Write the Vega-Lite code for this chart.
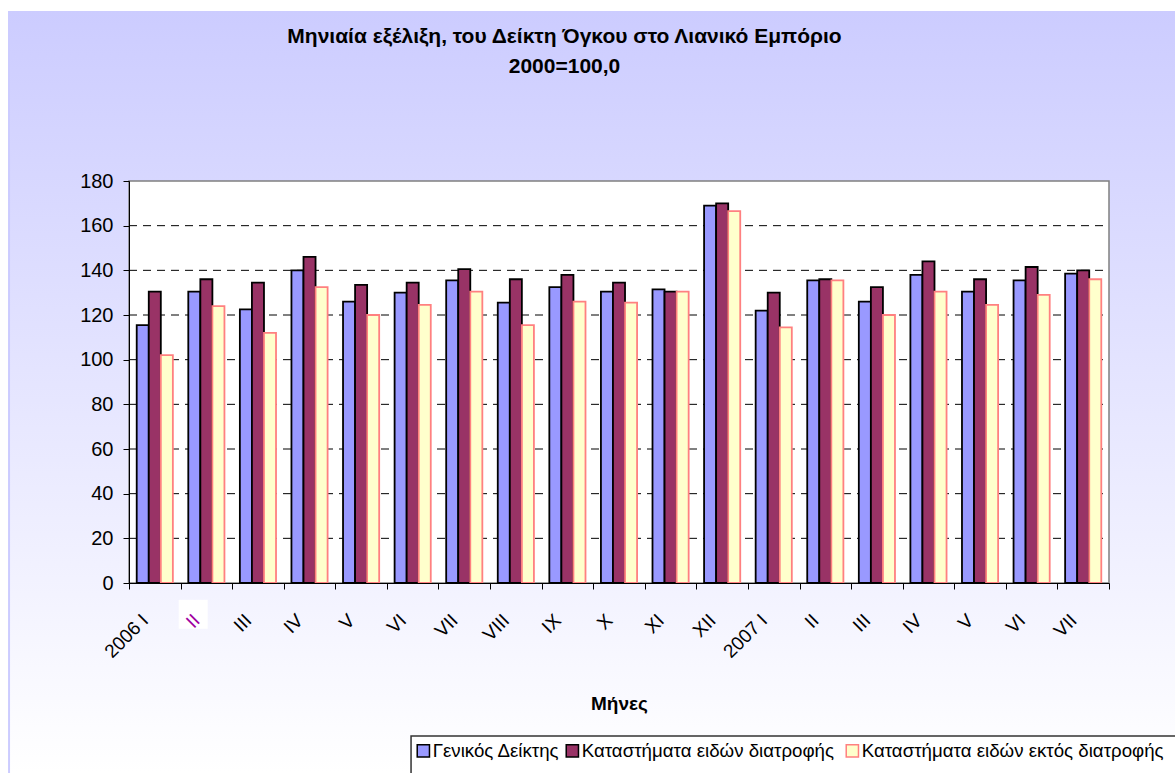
{"$schema":"https://vega.github.io/schema/vega-lite/v6.json","width":1167,"height":762,"autosize":"none","padding":{"left":8,"top":11,"right":0,"bottom":0},"background":"white","config":{"font":"Liberation Sans","view":{"stroke":null}},"view":{"stroke":null,"fill":{"gradient":"linear","x1":0,"y1":0,"x2":0,"y2":1,"stops":[{"offset":0,"color":"#CCCCFF"},{"offset":1,"color":"#FFFFFF"}]}},"title":{"text":["Μηνιαία εξέλιξη, του Δείκτη Όγκου στο Λιανικό Εμπόριο","2000=100,0"],"anchor":"middle","frame":"group","fontSize":21,"fontWeight":"bold","color":"#000000","dx":-27,"dy":71,"lineHeight":30},"datasets":{"edge":[{"a":-0.1224}],"box":[{"a":0.0655,"g":-14}],"legendbox":[{"a":0.2878,"b":1.2,"lo":-68.5,"hi":-100}],"frame":[{"a":0,"b":1,"lo":0,"hi":180}],"grid":[{"a":0,"b":1,"g":20},{"a":0,"b":1,"g":40},{"a":0,"b":1,"g":60},{"a":0,"b":1,"g":80},{"a":0,"b":1,"g":100},{"a":0,"b":1,"g":120},{"a":0,"b":1,"g":140},{"a":0,"b":1,"g":160}],"bars":[
{"m":"2006-01","s":"Γενικός Δείκτης","v":115.5},{"m":"2006-01","s":"Καταστήματα ειδών  διατροφής","v":130.5},{"m":"2006-01","s":"Καταστήματα ειδών   εκτός διατροφής","v":102},
{"m":"2006-02","s":"Γενικός Δείκτης","v":130.5},{"m":"2006-02","s":"Καταστήματα ειδών  διατροφής","v":136},{"m":"2006-02","s":"Καταστήματα ειδών   εκτός διατροφής","v":124},
{"m":"2006-03","s":"Γενικός Δείκτης","v":122.5},{"m":"2006-03","s":"Καταστήματα ειδών  διατροφής","v":134.5},{"m":"2006-03","s":"Καταστήματα ειδών   εκτός διατροφής","v":112},
{"m":"2006-04","s":"Γενικός Δείκτης","v":140},{"m":"2006-04","s":"Καταστήματα ειδών  διατροφής","v":146},{"m":"2006-04","s":"Καταστήματα ειδών   εκτός διατροφής","v":132.5},
{"m":"2006-05","s":"Γενικός Δείκτης","v":126},{"m":"2006-05","s":"Καταστήματα ειδών  διατροφής","v":133.5},{"m":"2006-05","s":"Καταστήματα ειδών   εκτός διατροφής","v":120},
{"m":"2006-06","s":"Γενικός Δείκτης","v":130},{"m":"2006-06","s":"Καταστήματα ειδών  διατροφής","v":134.5},{"m":"2006-06","s":"Καταστήματα ειδών   εκτός διατροφής","v":124.5},
{"m":"2006-07","s":"Γενικός Δείκτης","v":135.5},{"m":"2006-07","s":"Καταστήματα ειδών  διατροφής","v":140.5},{"m":"2006-07","s":"Καταστήματα ειδών   εκτός διατροφής","v":130.5},
{"m":"2006-08","s":"Γενικός Δείκτης","v":125.5},{"m":"2006-08","s":"Καταστήματα ειδών  διατροφής","v":136},{"m":"2006-08","s":"Καταστήματα ειδών   εκτός διατροφής","v":115.5},
{"m":"2006-09","s":"Γενικός Δείκτης","v":132.5},{"m":"2006-09","s":"Καταστήματα ειδών  διατροφής","v":138},{"m":"2006-09","s":"Καταστήματα ειδών   εκτός διατροφής","v":126},
{"m":"2006-10","s":"Γενικός Δείκτης","v":130.5},{"m":"2006-10","s":"Καταστήματα ειδών  διατροφής","v":134.5},{"m":"2006-10","s":"Καταστήματα ειδών   εκτός διατροφής","v":125.5},
{"m":"2006-11","s":"Γενικός Δείκτης","v":131.5},{"m":"2006-11","s":"Καταστήματα ειδών  διατροφής","v":130.5},{"m":"2006-11","s":"Καταστήματα ειδών   εκτός διατροφής","v":130.5},
{"m":"2006-12","s":"Γενικός Δείκτης","v":169},{"m":"2006-12","s":"Καταστήματα ειδών  διατροφής","v":170},{"m":"2006-12","s":"Καταστήματα ειδών   εκτός διατροφής","v":166.5},
{"m":"2007-01","s":"Γενικός Δείκτης","v":122},{"m":"2007-01","s":"Καταστήματα ειδών  διατροφής","v":130},{"m":"2007-01","s":"Καταστήματα ειδών   εκτός διατροφής","v":114.5},
{"m":"2007-02","s":"Γενικός Δείκτης","v":135.5},{"m":"2007-02","s":"Καταστήματα ειδών  διατροφής","v":136},{"m":"2007-02","s":"Καταστήματα ειδών   εκτός διατροφής","v":135.5},
{"m":"2007-03","s":"Γενικός Δείκτης","v":126},{"m":"2007-03","s":"Καταστήματα ειδών  διατροφής","v":132.5},{"m":"2007-03","s":"Καταστήματα ειδών   εκτός διατροφής","v":120},
{"m":"2007-04","s":"Γενικός Δείκτης","v":138},{"m":"2007-04","s":"Καταστήματα ειδών  διατροφής","v":144},{"m":"2007-04","s":"Καταστήματα ειδών   εκτός διατροφής","v":130.5},
{"m":"2007-05","s":"Γενικός Δείκτης","v":130.5},{"m":"2007-05","s":"Καταστήματα ειδών  διατροφής","v":136},{"m":"2007-05","s":"Καταστήματα ειδών   εκτός διατροφής","v":124.5},
{"m":"2007-06","s":"Γενικός Δείκτης","v":135.5},{"m":"2007-06","s":"Καταστήματα ειδών  διατροφής","v":141.5},{"m":"2007-06","s":"Καταστήματα ειδών   εκτός διατροφής","v":129},
{"m":"2007-07","s":"Γενικός Δείκτης","v":138.5},{"m":"2007-07","s":"Καταστήματα ειδών  διατροφής","v":140},{"m":"2007-07","s":"Καταστήματα ειδών   εκτός διατροφής","v":136}
]},"resolve":{"scale":{"x":"independent"},"axis":{"x":"independent"}},"layer":[
{"data":{"name":"frame"},"mark":{"type":"rect","fill":"white","stroke":"#808080","strokeWidth":1.5},"encoding":{"x":{"field":"a","type":"quantitative","scale":{"domain":[0,1],"range":[121,1101]},"axis":null},"x2":{"field":"b"},"y":{"field":"lo","type":"quantitative","scale":{"domain":[0,180],"range":[572,170],"nice":false},"axis":{"title":null,"offset":-121,"orient":"left","values":[0,20,40,60,80,100,120,140,160,180],"grid":false,"labelFontSize":20,"labelColor":"#000000","tickColor":"#000000","domainColor":"#000000","tickSize":6,"labelPadding":10,"zindex":1}},"y2":{"field":"hi"}}},
{"data":{"name":"legendbox"},"mark":{"type":"rect","fill":"#FFFFFF","stroke":"#333333","strokeWidth":1.5,"clip":false},"encoding":{"x":{"field":"a","type":"quantitative","scale":{"domain":[0,1],"range":[121,1101]},"axis":null},"x2":{"field":"b"},"y":{"field":"lo","type":"quantitative"},"y2":{"field":"hi"}}},
{"data":{"name":"edge"},"mark":{"type":"rule","stroke":"#CCCCFF","strokeWidth":2},"encoding":{"x":{"field":"a","type":"quantitative","scale":{"domain":[0,1],"range":[121,1101]},"axis":null}}},
{"data":{"name":"box"},"mark":{"type":"square","filled":true,"color":"#FFFFFF","opacity":1,"size":841,"clip":false},"encoding":{"x":{"field":"a","type":"quantitative","scale":{"domain":[0,1],"range":[121,1101]},"axis":null},"y":{"field":"g","type":"quantitative"}}},
{"data":{"name":"grid"},"mark":{"type":"rule","stroke":"#000000","strokeWidth":1,"strokeDash":[8,6]},"encoding":{"x":{"field":"a","type":"quantitative","scale":{"domain":[0,1],"range":[121,1101]},"axis":null},"x2":{"field":"b"},"y":{"field":"g","type":"quantitative"}}},
{"data":{"name":"bars"},"mark":{"type":"bar","strokeWidth":1.8},"encoding":{
"x":{"field":"m","type":"nominal","sort":null,"scale":{"range":[121,1101],"paddingInner":0,"paddingOuter":0},"axis":{"title":"Μήνες","titleFontSize":19,"titleFontWeight":"bold","titleColor":"#000000","titlePadding":33,"offset":-190,"orient":"bottom","labelAngle":-45,"labelAlign":"right","labelBaseline":"middle","labelFontSize":19,"labelColor":{"condition":{"test":"datum.value==='2006-02'","value":"#A000A0"},"value":"#000000"},"labelPadding":28,"labelOffset":-10,"tickBand":"extent","tickColor":"#000000","domainColor":"#000000","tickSize":6,"labelExpr":"({'2006-01':'2006 I','2006-02':'II','2006-03':'III','2006-04':'IV','2006-05':'V','2006-06':'VI','2006-07':'VII','2006-08':'VIII','2006-09':'IX','2006-10':'X','2006-11':'XI','2006-12':'XII','2007-01':'2007 I','2007-02':'II','2007-03':'III','2007-04':'IV','2007-05':'V','2007-06':'VI','2007-07':'VII'})[datum.value]","zindex":1}},
"xOffset":{"field":"s","type":"nominal","sort":null,"scale":{"domain":["Γενικός Δείκτης","Καταστήματα ειδών  διατροφής","Καταστήματα ειδών   εκτός διατροφής"],"paddingInner":0,"paddingOuter":0.64}},
"y":{"field":"v","type":"quantitative"},
"fill":{"field":"s","type":"nominal","scale":{"domain":["Γενικός Δείκτης","Καταστήματα ειδών  διατροφής","Καταστήματα ειδών   εκτός διατροφής"],"range":["#9999FF","#993366","#FFFFCC"]},"legend":{"orient":"none","legendX":406,"legendY":730,"direction":"horizontal","columns":3,"title":null,"padding":0,"symbolType":"square","symbolSize":150,"labelFontSize":18.7,"labelColor":"#000000","labelOffset":0,"columnPadding":3,"labelLimit":400}},
"stroke":{"field":"s","type":"nominal","scale":{"domain":["Γενικός Δείκτης","Καταστήματα ειδών  διατροφής","Καταστήματα ειδών   εκτός διατροφής"],"range":["#000000","#000000","#FF8080"]},"legend":null}
}}
]}
